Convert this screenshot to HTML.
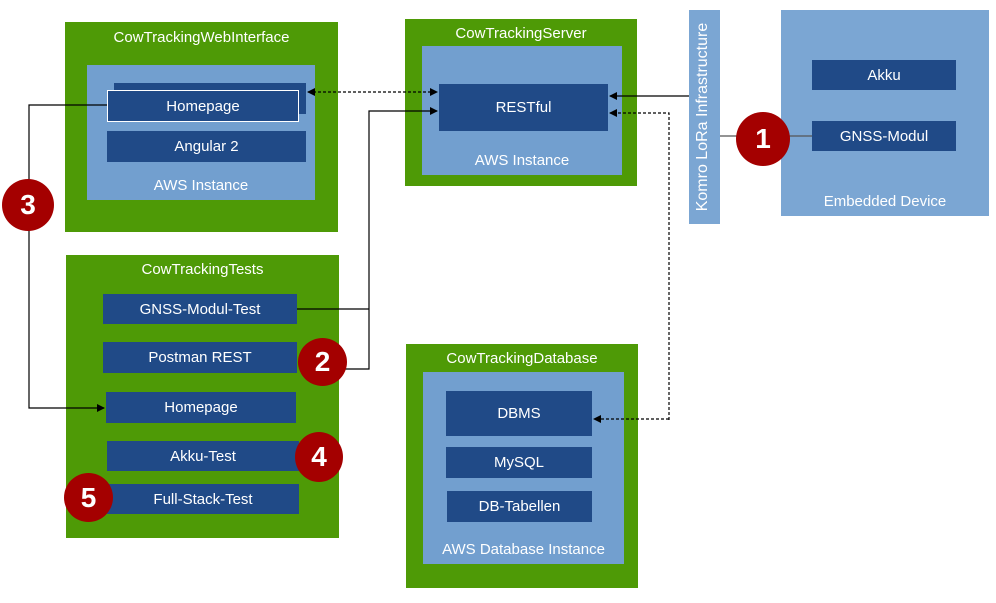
<!DOCTYPE html>
<html><head><meta charset="utf-8"><style>
body{margin:0;width:996px;height:603px;background:#fff;position:relative;overflow:hidden;font-family:"Liberation Sans",sans-serif;}
div{position:absolute;box-sizing:border-box;}
.g{background:#4e9a06;}
.b{background:#729fcf;}
.d{background:#204a87;color:#fff;font-size:15px;display:flex;align-items:center;justify-content:center;}
.t{color:#fff;font-size:15px;text-align:center;}
.c{background:#a40000;border-radius:50%;color:#fff;font-weight:bold;font-size:28px;display:flex;align-items:center;justify-content:center;}
svg{position:absolute;left:0;top:0;}
</style></head><body>
<div class="g" style="left:65px;top:22px;width:273px;height:210px"></div>
<div class="t" style="left:65px;top:29px;width:273px">CowTrackingWebInterface</div>
<div class="b" style="left:87px;top:65px;width:228px;height:135px"></div>
<div class="d" style="left:114px;top:83px;width:192px;height:31px"></div>
<div class="d" style="left:107px;top:90px;width:192px;height:32px;border:1px solid #fff">Homepage</div>
<div class="d" style="left:107px;top:131px;width:199px;height:31px">Angular 2</div>
<div class="t" style="left:87px;top:177px;width:228px">AWS Instance</div>
<div class="g" style="left:405px;top:19px;width:232px;height:167px"></div>
<div class="t" style="left:405px;top:25px;width:232px">CowTrackingServer</div>
<div class="b" style="left:422px;top:46px;width:200px;height:129px"></div>
<div class="d" style="left:439px;top:84px;width:169px;height:47px">RESTful</div>
<div class="t" style="left:422px;top:152px;width:200px">AWS Instance</div>
<div style="left:689px;top:10px;width:31px;height:214px;background:#7ba6d3"></div>
<div class="t" style="left:599px;top:107px;width:210px;height:20px;transform:rotate(-90deg);white-space:nowrap;font-size:16px">Komro LoRa Infrastructure</div>
<div style="left:781px;top:10px;width:208px;height:206px;background:#7ba6d3"></div>
<div class="d" style="left:812px;top:60px;width:144px;height:30px">Akku</div>
<div class="d" style="left:812px;top:121px;width:144px;height:30px">GNSS-Modul</div>
<div class="t" style="left:781px;top:193px;width:208px">Embedded Device</div>
<div class="g" style="left:66px;top:255px;width:273px;height:283px"></div>
<div class="t" style="left:66px;top:261px;width:273px">CowTrackingTests</div>
<div class="d" style="left:103px;top:294px;width:194px;height:30px">GNSS-Modul-Test</div>
<div class="d" style="left:103px;top:342px;width:194px;height:31px">Postman REST</div>
<div class="d" style="left:106px;top:392px;width:190px;height:31px">Homepage</div>
<div class="d" style="left:107px;top:441px;width:192px;height:30px">Akku-Test</div>
<div class="d" style="left:107px;top:484px;width:192px;height:30px">Full-Stack-Test</div>
<div class="g" style="left:406px;top:344px;width:232px;height:244px"></div>
<div class="t" style="left:406px;top:350px;width:232px">CowTrackingDatabase</div>
<div class="b" style="left:423px;top:372px;width:201px;height:192px"></div>
<div class="d" style="left:446px;top:391px;width:146px;height:45px">DBMS</div>
<div class="d" style="left:446px;top:447px;width:146px;height:31px">MySQL</div>
<div class="d" style="left:447px;top:491px;width:145px;height:31px">DB-Tabellen</div>
<div class="t" style="left:423px;top:541px;width:201px">AWS Database Instance</div>
<svg width="996" height="603">
<defs><marker id="a" markerWidth="8" markerHeight="8" refX="7" refY="4" orient="auto-start-reverse" markerUnits="userSpaceOnUse"><path d="M0,0L8,4L0,8z" fill="#000"/></marker></defs>
<g fill="none" stroke="#000" stroke-width="1.2">
<path d="M308,92H437" stroke-dasharray="3,2" marker-start="url(#a)" marker-end="url(#a)"/>
<path d="M689,96H610" marker-end="url(#a)"/>
<path d="M669,420V113H610" stroke-dasharray="3,2" marker-end="url(#a)"/>
<path d="M669,419H594" stroke-dasharray="3,2" marker-end="url(#a)"/>
<path d="M297,309H369M340,369H369V111H437" marker-end="url(#a)"/>
<path d="M107,105H29V408H104" marker-end="url(#a)"/>
<path d="M720,136H812" stroke="#555"/>
</g>
</svg>
<div class="c" style="left:736px;top:112px;width:54px;height:54px">1</div>
<div class="c" style="left:298px;top:338px;width:49px;height:48px">2</div>
<div class="c" style="left:2px;top:179px;width:52px;height:52px">3</div>
<div class="c" style="left:295px;top:432px;width:48px;height:50px">4</div>
<div class="c" style="left:64px;top:473px;width:49px;height:49px">5</div>
</body></html>
